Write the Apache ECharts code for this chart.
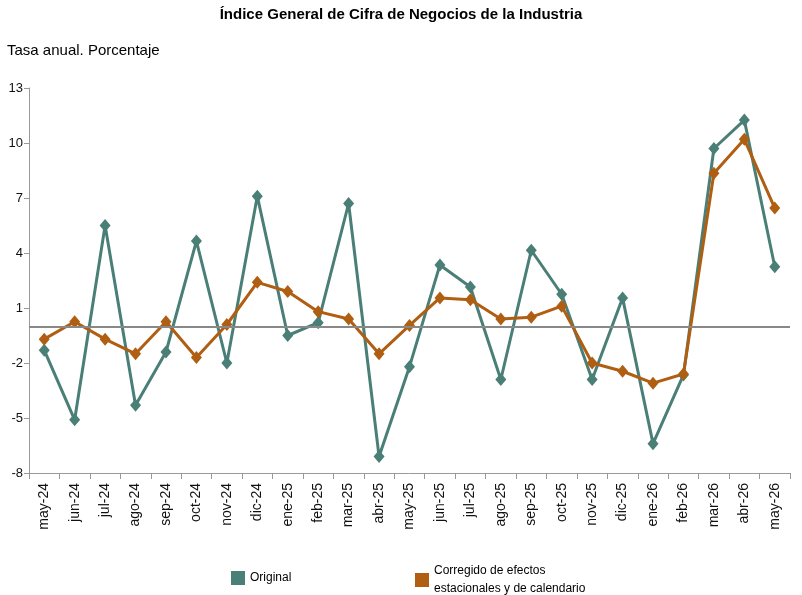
<!DOCTYPE html>
<html lang="es">
<head>
<meta charset="utf-8"/>
<title>Índice General de Cifra de Negocios de la Industria</title>
<script src="https://cdn.jsdelivr.net/npm/echarts@6/dist/echarts.min.js"></script>
<style>
    html, body { margin: 0; height: 100%; background: #fff; }
    .chart { width: 802px; height: 595px; }
</style>
</head>
<body>
<div class="chart"></div>
<script>
    const months = ["may-24", "jun-24", "jul-24", "ago-24", "sep-24", "oct-24", "nov-24", "dic-24",
        "ene-25", "feb-25", "mar-25", "abr-25", "may-25", "jun-25", "jul-25", "ago-25", "sep-25",
        "oct-25", "nov-25", "dic-25", "ene-26", "feb-26", "mar-26", "abr-26", "may-26"];
    const original = [-1.3, -5.1, 5.5, -4.3, -1.4, 4.65, -2.0, 7.1, -0.5, 0.2, 6.7, -7.1, -2.2,
        3.35, 2.15, -2.9, 4.15, 1.75, -2.9, 1.55, -6.4, -2.65, 9.7, 11.25, 3.25];
    const corregido = [-0.7, 0.25, -0.7, -1.5, 0.25, -1.7, 0.1, 2.4, 1.9, 0.8, 0.4, -1.5, 0.05,
        1.55, 1.45, 0.4, 0.5, 1.1, -2.0, -2.45, -3.1, -2.6, 8.35, 10.2, 6.45];

    const green = "#4a7f77";
    const orange = "#b05e12";
    const font = "Liberation Sans, Arial, sans-serif";

    const chart = echarts.init(document.querySelector(".chart"));
    chart.setOption({
        animation: false,
        textStyle: {fontFamily: font},
        title: [
            {text: "Índice General de Cifra de Negocios de la Industria", left: "center", top: 2,
                textStyle: {fontSize: 15, fontWeight: "bold", color: "#000"}},
            {text: "Tasa anual. Porcentaje", left: 2, top: 38,
                textStyle: {fontSize: 15, fontWeight: "normal", color: "#000"}}
        ],
        legend: [
            {data: ["Original"], left: 226, top: 566, icon: "rect", itemWidth: 14, itemHeight: 14,
                itemGap: 4, textStyle: {fontSize: 12, color: "#000"}},
            {data: ["Corregido"], left: 410, top: 557, icon: "rect", itemWidth: 14, itemHeight: 14,
                formatter: () => "Corregido de efectos\nestacionales y de calendario",
                textStyle: {fontSize: 12, color: "#000", lineHeight: 18}}
        ],
        grid: {left: 29, right: 12, top: 88, bottom: 122},
        xAxis: {
            type: "category", data: months, boundaryGap: true,
            axisLine: {onZero: false, lineStyle: {color: "#999"}},
            axisTick: {show: true, length: 6, lineStyle: {color: "#999"}},
            axisLabel: {rotate: 90, color: "#111", fontSize: 14, interval: 0, margin: 10}
        },
        yAxis: {
            type: "value", min: -8, max: 13, interval: 3,
            axisLine: {show: true, lineStyle: {color: "#999"}},
            axisTick: {show: true, lineStyle: {color: "#999"}},
            splitLine: {show: false},
            axisLabel: {color: "#111", fontSize: 13, margin: 6}
        },
        series: [
            {
                name: "Original", type: "line", data: original, color: green,
                symbol: "diamond", symbolSize: [11, 13], lineStyle: {width: 3},
                markLine: {silent: true, symbol: "none", label: {show: false},
                    lineStyle: {color: "#888", width: 2, type: "solid"}, data: [{yAxis: 0}]}
            },
            {
                name: "Corregido", type: "line", data: corregido, color: orange,
                symbol: "diamond", symbolSize: [11, 13], lineStyle: {width: 3}
            }
        ]
    });
</script>
</body>
</html>
